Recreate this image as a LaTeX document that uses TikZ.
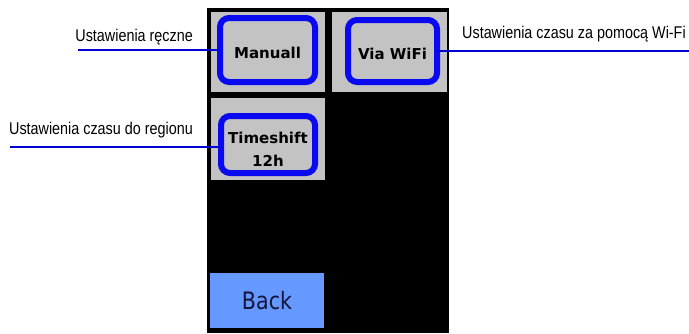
\documentclass[tikz,border=0pt]{standalone}
\usepackage{fontspec}
\setmainfont{Liberation Sans}
\newfontfamily\labfont[FakeStretch=0.845]{Liberation Sans}
\newfontfamily\btnfont{DejaVu Sans}
\newfontfamily\backfont[FakeStretch=0.86]{DejaVu Sans}
\definecolor{leadblue}{RGB}{0,0,215}
\definecolor{boxblue}{RGB}{10,10,240}
\definecolor{tilegray}{RGB}{195,195,195}
\definecolor{backblue}{RGB}{102,153,255}
\definecolor{backtext}{RGB}{20,20,60}
\newcommand{\btntext}[2]{\raisebox{#1}[\height][\depth]{\begin{tabular}{@{}c@{}}#2\end{tabular}}}
\tikzset{
  tile/.style={fill=tilegray, draw=none, inner sep=0pt, outer sep=0pt},
  bluebox/.style={draw=boxblue, line width=6pt, rounded corners=9pt, inner sep=0pt, outer sep=0pt,
    font=\btnfont\bfseries\fontsize{15}{23}\selectfont},
  leader/.style={draw=leadblue, line width=2.4pt},
  lab/.style={font=\labfont\fontsize{17}{20}\selectfont, inner sep=0pt}
}
\begin{document}
\begin{tikzpicture}[x=1pt,y=-1pt]
\useasboundingbox[fill=white] (0,0) rectangle (689,333);
\fill[black] (207,8) rectangle (449,333);
% tiles
\node[tile, minimum width=114pt, minimum height=80pt] (t1) at (268,52) {};
\node[tile, minimum width=115pt, minimum height=80pt] (t2) at (389.5,52) {};
\node[tile, minimum width=114pt, minimum height=82pt] (t3) at (268,139) {};
\node[tile, fill=backblue, minimum width=114pt, minimum height=55pt,
  font=\backfont\fontsize{24}{28}\selectfont, text=backtext] (back) at (267,300.5) {Back};
% blue buttons
\node[bluebox, minimum width=95pt, minimum height=64pt] (mb) at (267.5,50) {\btntext{-3.5pt}{Manuall}};
\node[bluebox, minimum width=89pt, minimum height=62pt] (wb) at (392.5,51) {\btntext{-3.5pt}{Via WiFi}};
\node[bluebox, minimum width=94pt, minimum height=57pt] (tb) at (268,144.5) {\btntext{-5.5pt}{Timeshift\\12h}};
% labels
\node[lab, anchor=east] (l1) at (193,37) {Ustawienia ręczne};
\node[lab, anchor=east] (l3) at (193,130) {Ustawienia czasu do regionu};
\node[lab, anchor=west] (l2) at (462,34) {Ustawienia czasu za pomocą Wi-Fi};
% leaders
\coordinate (m0) at (78,50);
\coordinate (w0) at (689,51);
\coordinate (s0) at (10,147);
\draw[leader] (m0) -- (mb.west);
\draw[leader] (wb.east) -- (w0);
\draw[leader] (s0) -- (s0 -| tb.west);
\end{tikzpicture}
\end{document}
